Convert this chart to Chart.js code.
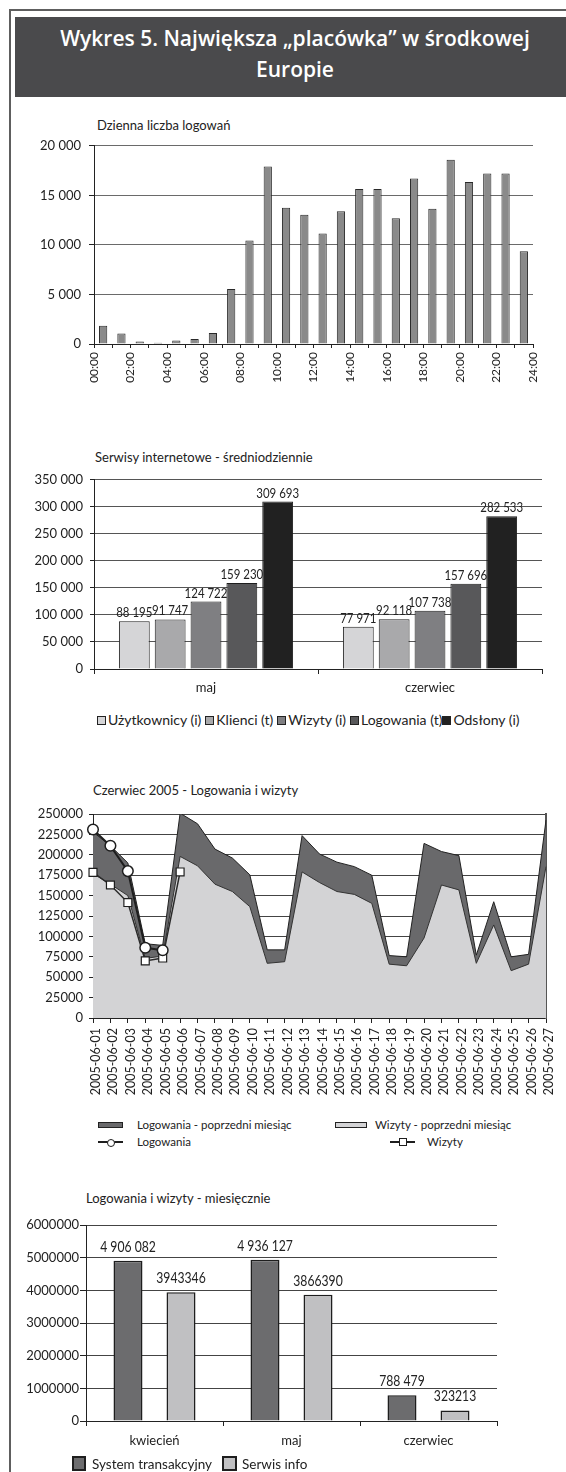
<!DOCTYPE html>
<html lang="pl">
<head>
<meta charset="utf-8">
<title>Wykres 5</title>
<script src="https://cdn.jsdelivr.net/npm/chart.js@4.4.0/dist/chart.umd.min.js"></script>
<style>
  body { margin: 0; width: 566px; height: 1472px; background: #fff; position: relative; overflow: hidden;
         font-family: Lato, sans-serif; color: #222; }
  .ramka { position: absolute; left: 9px; top: 9px; width: 620px; height: 1520px; border: 2px solid #5e5e5e; box-sizing: border-box; }
  .naglowek { position: absolute; left: 15px; top: 17px; width: 560px; height: 80px; background: #4a4a4c; }
  .naglowek div { width: 560px; text-align: center; color: #fff; font-family: 'Open Sans', sans-serif; font-weight: 600;
                  font-size: 21px; line-height: 31px; padding-top: 6px; }
  .tytul { position: absolute; font-size: 13px; line-height: 1; white-space: nowrap; }
  canvas { position: absolute; left: 0; }
  .leg { position: absolute; white-space: nowrap; line-height: 1; }
  .kw { display: inline-block; box-sizing: border-box; border: 1px solid #222; }
</style>
</head>
<body>
<div class="ramka"></div>
<div class="naglowek"><div>Wykres 5. Największa „placówka” w środkowej<br>Europie</div></div>

<div class="tytul" style="left:97px; top:119px;">Dzienna liczba logowań</div>
<canvas id="c1" width="566" height="260" style="top:130px"></canvas>

<div class="tytul" style="left:95px; top:451px;">Serwisy internetowe - średniodziennie</div>
<canvas id="c2" width="566" height="235" style="top:465px"></canvas>
<div class="leg" id="leg2" style="left:97px; top:713px; font-size:14px;"></div>

<div class="tytul" style="left:93px; top:784px;">Czerwiec 2005 - Logowania i wizyty</div>
<canvas id="c3" width="566" height="310" style="top:800px"></canvas>
<div id="leg3"></div>

<div class="tytul" style="left:86px; top:1192px;">Logowania i wizyty - miesięcznie</div>
<canvas id="c4" width="566" height="245" style="top:1215px"></canvas>
<div id="leg4"></div>

<script>
// dzienna liczba logowań, godziny 00-24
const logowaniaGodzinowe = [1850, 1050, 250, 120, 350, 500, 1100, 5550, 10450, 17900, 13750, 13050,
  11150, 13400, 15650, 15650, 12700, 16700, 13650, 18600, 16350, 17200, 17200, 9350];

// serwisy internetowe - średniodziennie
const miesiaceSerwisy = ['maj', 'czerwiec'];
const serwisyNazwy = ['Użytkownicy (i)', 'Klienci (t)', 'Wizyty (i)', 'Logowania (t)', 'Odsłony (i)'];
const serwisyKolory = ['#d5d5d7', '#a9a9ab', '#7f7f82', '#58585a', '#212121'];
const serwisyMaj = [88195, 91747, 124722, 159230, 309693];
const serwisyCzerwiec = [77971, 92118, 107738, 157696, 282533];

// czerwiec 2005 - logowania i wizyty
const dniCzerwca = ['2005-06-01', '2005-06-02', '2005-06-03', '2005-06-04', '2005-06-05', '2005-06-06',
  '2005-06-07', '2005-06-08', '2005-06-09', '2005-06-10', '2005-06-11', '2005-06-12', '2005-06-13',
  '2005-06-14', '2005-06-15', '2005-06-16', '2005-06-17', '2005-06-18', '2005-06-19', '2005-06-20',
  '2005-06-21', '2005-06-22', '2005-06-23', '2005-06-24', '2005-06-25', '2005-06-26', '2005-06-27'];
const logowaniaPoprzedni = [228000, 211000, 190000, 91000, 89000, 251000, 238000, 207000, 196000, 175500,
  83500, 83500, 223500, 201000, 191000, 185500, 175000, 76500, 75000, 214000, 204000, 199000, 77000,
  142500, 75000, 78000, 242500];
const wizytyPoprzedni = [177000, 164000, 150000, 73000, 76000, 198000, 186500, 164000, 155000, 136500,
  67000, 69000, 179000, 166000, 155000, 151500, 140500, 66000, 64000, 98000, 163000, 157000, 67000,
  114000, 58000, 66000, 185500];
const logowaniaCzerwiec = [231000, 211000, 180000, 86000, 83000];
const wizytyCzerwiec = [178500, 163000, 141500, 70000, 73500, 179000];

// logowania i wizyty - miesięcznie
const miesiace = ['kwiecień', 'maj', 'czerwiec'];
const systemTransakcyjny = [4906082, 4936127, 788479];
const serwisInfo = [3943346, 3866390, 323213];

Chart.defaults.font.family = 'Lato, sans-serif';
Chart.defaults.font.size = 13;
Chart.defaults.color = '#222';

function spacje(v) {
  return String(v).replace(/\B(?=(\d{3})+(?!\d))/g, ' ');
}

// liczby nad słupkami (lekko zwężone, jak w druku)
const etykietyWartosci = {
  id: 'etykietyWartosci',
  afterDatasetsDraw(chart, args, opts) {
    const ctx = chart.ctx;
    chart.data.datasets.forEach((ds, i) => {
      chart.getDatasetMeta(i).data.forEach((bar, j) => {
        const v = ds.data[j];
        ctx.save();
        ctx.font = opts.font;
        ctx.fillStyle = '#222';
        ctx.textAlign = 'center';
        ctx.textBaseline = 'alphabetic';
        ctx.translate(bar.x, bar.y - opts.odstep);
        ctx.scale(opts.zwezenie, 1);
        ctx.fillText(ds.bezSpacji ? String(v) : spacje(v), 0, 0);
        ctx.restore();
      });
    });
  }
};

const bezInterakcji = { responsive: false, animation: false, events: [] };

// wykres 1
new Chart(document.getElementById('c1'), {
  type: 'bar',
  data: {
    datasets: [{
      data: logowaniaGodzinowe.map((v, i) => ({ x: i + 0.5, y: v })),
      backgroundColor: '#8a8a8a', borderColor: '#2a2a2a', borderWidth: 1,
      categoryPercentage: 1, barPercentage: 0.45
    }]
  },
  options: {
    ...bezInterakcji,
    layout: { padding: { top: 12, right: 33, left: 0, bottom: 0 } },
    plugins: { legend: { display: false }, tooltip: { enabled: false } },
    scales: {
      x: {
        type: 'linear', min: 0, max: 24, offset: false,
        grid: { drawOnChartArea: false, tickLength: 4, tickColor: '#222', offset: false },
        border: { color: '#222' },
        ticks: {
          stepSize: 1, autoSkip: false, maxRotation: 90, minRotation: 90, padding: 4, font: { size: 12 },
          callback: v => v % 2 === 0 ? String(v).padStart(2, '0') + ':00' : ''
        },
        afterFit: s => { s.height = 46; }
      },
      y: {
        min: 0, max: 20000,
        grid: { color: c => c.tick.value === 0 ? '#222' : '#6a6a6a', tickLength: 5, tickColor: '#222' },
        border: { color: '#222' },
        ticks: { stepSize: 5000, padding: 8, callback: v => spacje(v) },
        afterFit: s => { s.width = 94; }
      }
    }
  }
});

// wykres 2
new Chart(document.getElementById('c2'), {
  type: 'bar',
  data: {
    labels: miesiaceSerwisy,
    datasets: serwisyNazwy.map((n, k) => ({
      label: n,
      data: [serwisyMaj[k], serwisyCzerwiec[k]],
      backgroundColor: serwisyKolory[k], borderColor: '#1e1e1e', borderWidth: 1,
      categoryPercentage: 0.8, barPercentage: 0.86
    }))
  },
  options: {
    ...bezInterakcji,
    layout: { padding: { top: 10, right: 24, left: 0, bottom: 0 } },
    plugins: {
      legend: { display: false }, tooltip: { enabled: false },
      etykietyWartosci: { font: '13.5px Lato', odstep: 4, zwezenie: 0.85 }
    },
    scales: {
      x: {
        grid: { drawOnChartArea: false, tickLength: 5, tickColor: '#222' },
        border: { color: '#222' },
        ticks: { padding: 6, font: { size: 13 } },
        afterFit: s => { s.height = 31; }
      },
      y: {
        min: 0, max: 350000,
        grid: { color: c => c.tick.value === 0 ? '#222' : '#555', tickLength: 4, tickColor: '#222' },
        border: { color: '#222' },
        ticks: { stepSize: 50000, padding: 7, callback: v => spacje(v) },
        afterFit: s => { s.width = 94; }
      }
    }
  },
  plugins: [etykietyWartosci]
});

// wykres 3
new Chart(document.getElementById('c3'), {
  type: 'line',
  data: {
    labels: dniCzerwca,
    datasets: [
      { label: 'Logowania', data: logowaniaCzerwiec, order: 0, borderColor: '#1e1e1e', borderWidth: 2,
        pointStyle: 'circle', pointRadius: 5.3, pointBackgroundColor: '#fff', pointBorderColor: '#1e1e1e',
        pointBorderWidth: 1.5, fill: false, tension: 0 },
      { label: 'Wizyty', data: wizytyCzerwiec, order: 1, borderColor: '#2a2a2a', borderWidth: 1.5,
        pointStyle: 'rect', pointRadius: 5.6, pointBackgroundColor: '#fff', pointBorderColor: '#1e1e1e',
        pointBorderWidth: 1.2, fill: false, tension: 0 },
      { label: 'Wizyty - poprzedni miesiąc', data: wizytyPoprzedni, order: 2, borderColor: '#333',
        borderWidth: 1, backgroundColor: '#d3d3d5', fill: 'origin', pointRadius: 0, tension: 0 },
      { label: 'Logowania - poprzedni miesiąc', data: logowaniaPoprzedni, order: 3, borderColor: '#222',
        borderWidth: 1, backgroundColor: '#69696b', fill: 'origin', pointRadius: 0, tension: 0 }
    ]
  },
  options: {
    ...bezInterakcji,
    layout: { padding: { top: 14, right: 15, left: 0, bottom: 0 } },
    plugins: { legend: { display: false }, tooltip: { enabled: false } },
    scales: {
      x: {
        offset: false,
        grid: { drawOnChartArea: false, tickLength: 5, tickColor: '#222' },
        border: { color: '#222' },
        ticks: { autoSkip: false, maxRotation: 90, minRotation: 90, padding: 5, labelOffset: 3, font: { size: 12.5 } },
        afterFit: s => { s.height = 92; }
      },
      y: {
        min: 0, max: 250000,
        grid: { color: c => c.tick.value === 0 ? '#222' : '#444', tickLength: 4, tickColor: '#222' },
        border: { color: '#222' },
        ticks: { stepSize: 25000, padding: 6, callback: v => String(v) },
        afterFit: s => { s.width = 93; }
      },
      y2: {
        position: 'right', min: 0, max: 250000,
        grid: { drawOnChartArea: false, drawTicks: false },
        border: { color: '#555', width: 2 },
        ticks: { display: false },
        afterFit: s => { s.width = 0; }
      }
    }
  }
});

// wykres 4
new Chart(document.getElementById('c4'), {
  type: 'bar',
  data: {
    labels: miesiace,
    datasets: [
      { label: 'System transakcyjny', data: systemTransakcyjny, backgroundColor: '#6c6c6e',
        borderColor: '#1e1e1e', borderWidth: 1.5, categoryPercentage: 0.774, barPercentage: 0.547 },
      { label: 'Serwis info', data: serwisInfo, bezSpacji: true, backgroundColor: '#c0c0c2',
        borderColor: '#1e1e1e', borderWidth: 1.5, categoryPercentage: 0.774, barPercentage: 0.547 }
    ]
  },
  options: {
    ...bezInterakcji,
    layout: { padding: { top: 10, right: 69, left: 0, bottom: 0 } },
    plugins: {
      legend: { display: false }, tooltip: { enabled: false },
      etykietyWartosci: { font: '14.5px Lato', odstep: 9, zwezenie: 0.84 }
    },
    scales: {
      x: {
        grid: { drawOnChartArea: false, tickLength: 5, tickColor: '#222' },
        border: { color: '#222' },
        ticks: { padding: 7, font: { size: 13 } },
        afterFit: s => { s.height = 39; }
      },
      y: {
        min: 0, max: 6000000,
        grid: { color: c => c.tick.value === 0 ? '#222' : '#444', tickLength: 6, tickColor: '#222' },
        border: { color: '#222' },
        ticks: { stepSize: 1000000, padding: 1, callback: v => String(v) },
        afterFit: s => { s.width = 86; }
      }
    }
  },
  plugins: [etykietyWartosci]
});

// legendy
const leg2 = document.getElementById('leg2');
serwisyNazwy.forEach((n, k) => {
  const kw = document.createElement('span');
  kw.className = 'kw';
  kw.style.cssText = `width:9px;height:9px;background:${serwisyKolory[k]};margin-right:2px;vertical-align:0px;`;
  leg2.appendChild(kw);
  const t = document.createElement('span');
  t.textContent = n;
  t.style.marginRight = k === 3 ? '0px' : '4px';
  leg2.appendChild(t);
});

function dodaj(rodzic, html, css) {
  const d = document.createElement('div');
  d.className = 'leg';
  d.style.cssText = css;
  d.innerHTML = html;
  rodzic.appendChild(d);
}

const leg3 = document.getElementById('leg3');
dodaj(leg3, '', 'left:98px;top:1122px;width:25px;height:6px;background:#69696b;border:1px solid #222;box-sizing:border-box;');
dodaj(leg3, 'Logowania - poprzedni miesiąc', 'left:137px;top:1119px;font-size:11.5px;');
dodaj(leg3, '', 'left:335px;top:1122px;width:32px;height:6px;background:#d3d3d5;border:1px solid #222;box-sizing:border-box;');
dodaj(leg3, 'Wizyty - poprzedni miesiąc', 'left:375px;top:1119px;font-size:11.5px;');
dodaj(leg3, '', 'left:98px;top:1141px;width:25px;height:2px;background:#1e1e1e;');
dodaj(leg3, '', 'left:107px;top:1139px;width:6px;height:6px;border-radius:50%;background:#fff;border:1px solid #1e1e1e;box-sizing:content-box;');
dodaj(leg3, 'Logowania', 'left:137px;top:1136px;font-size:11.5px;');
dodaj(leg3, '', 'left:390px;top:1141px;width:25px;height:2px;background:#1e1e1e;');
dodaj(leg3, '', 'left:399px;top:1138px;width:6px;height:6px;background:#fff;border:1px solid #1e1e1e;box-sizing:content-box;');
dodaj(leg3, 'Wizyty', 'left:427px;top:1136px;font-size:11.5px;');

const leg4 = document.getElementById('leg4');
dodaj(leg4, '', 'left:72px;top:1456px;width:14px;height:15px;background:#6c6c6e;border:2px solid #1e1e1e;box-sizing:border-box;');
dodaj(leg4, 'System transakcyjny', 'left:92px;top:1458px;font-size:13.5px;');
dodaj(leg4, '', 'left:222px;top:1456px;width:15px;height:15px;background:#c0c0c2;border:2px solid #1e1e1e;box-sizing:border-box;');
dodaj(leg4, 'Serwis info', 'left:242px;top:1458px;font-size:13.5px;');
</script>
</body>
</html>
